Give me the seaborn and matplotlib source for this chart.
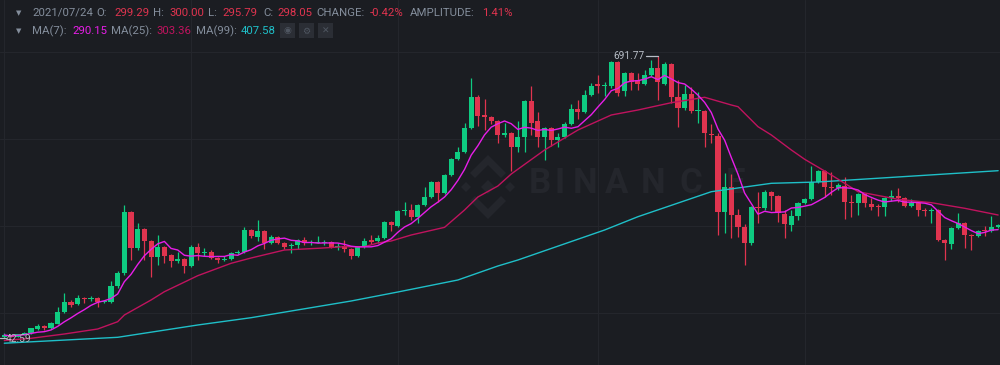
import numpy as np
import pandas as pd
import matplotlib.pyplot as plt
from matplotlib.patches import Rectangle, Polygon
import seaborn as sns

# OHLC (daily candles)
opens = [44.2, 48.5, 45.0, 50.5, 54.5, 64.0, 70.0, 64.5, 75.5, 102.0,
         125.3, 121.0, 134.5, 132.0, 134.5, 125.3, 125.3, 162.0, 192.0, 332.3,
         249.5, 293.2, 265.6, 228.8, 251.8, 233.4, 219.6, 224.2, 208.1, 251.8,
         238.0, 240.0, 226.5, 222.0, 224.2, 238.0, 240.0, 290.9, 274.8, 288.6,
         261.0, 274.8, 261.0, 254.0, 256.4, 267.9, 261.0, 262.0, 262.0, 263.0,
         252.0, 254.0, 247.0, 231.0, 251.8, 267.9, 265.6, 272.5, 309.3, 300.0,
         334.6, 336.9, 320.8, 348.4, 366.8, 401.3, 376.0, 417.4, 454.1, 470.3,
         525.5, 596.8, 555.0, 551.0, 541.6, 509.4, 514.0, 481.8, 504.8, 587.6,
         542.0, 504.8, 525.5, 497.9, 504.8, 534.7, 569.2, 562.3, 601.4, 626.7,
         622.1, 622.0, 677.3, 610.6, 652.0, 636.0, 626.7, 647.4, 663.5, 626.7,
         672.7, 596.8, 571.5, 603.7, 564.6, 564.6, 511.7, 507.0, 332.3, 389.8,
         325.4, 297.8, 260.9, 343.8, 341.5, 378.3, 369.1, 327.7, 302.4, 323.1,
         353.0, 362.2, 401.3, 426.6, 389.8, 387.5, 392.0, 355.3, 353.0, 373.7,
         350.7, 346.0, 343.8, 364.5, 369.1, 364.5, 346.0, 352.0, 337.0, 335.0,
         336.9, 267.9, 258.6, 295.5, 307.0, 280.0, 277.0, 291.0, 289.0, 297.8]
highs = [52.9, 50.5, 52.0, 56.5, 66.0, 74.0, 71.5, 79.0, 113.8, 146.0,
         130.0, 141.0, 137.0, 139.0, 137.0, 130.0, 173.6, 196.6, 348.4, 335.0,
         307.0, 296.0, 268.0, 279.4, 254.0, 235.0, 239.7, 226.0, 256.4, 261.0,
         250.0, 246.0, 228.0, 230.0, 241.0, 246.0, 298.0, 293.0, 313.9, 291.0,
         280.0, 277.0, 263.0, 260.0, 270.0, 274.0, 267.0, 277.0, 268.0, 265.0,
         260.0, 267.0, 250.0, 254.0, 272.0, 279.0, 279.4, 312.0, 311.0, 337.0,
         355.0, 350.0, 350.0, 390.0, 403.0, 404.0, 420.0, 457.0, 482.0, 536.0,
         640.5, 601.0, 593.0, 553.0, 544.0, 537.0, 517.0, 541.0, 590.0, 621.0,
         563.0, 528.0, 528.0, 513.0, 540.0, 580.0, 589.0, 612.0, 630.0, 647.0,
         632.0, 680.0, 680.0, 655.0, 655.0, 652.0, 659.0, 681.9, 691.77, 677.0,
         675.0, 636.0, 624.0, 620.0, 608.0, 567.0, 535.0, 515.0, 422.0, 420.0,
         340.0, 305.0, 346.0, 378.0, 382.0, 381.0, 372.0, 336.0, 337.0, 356.0,
         365.0, 439.0, 430.0, 429.0, 425.0, 400.0, 413.0, 372.0, 377.0, 377.0,
         365.0, 350.0, 367.0, 383.0, 387.0, 367.0, 362.0, 355.0, 341.0, 342.0,
         340.0, 270.0, 297.0, 331.0, 310.0, 282.0, 290.0, 300.0, 322.0, 305.0]
lows = [42.59, 44.0, 44.0, 49.5, 52.0, 61.0, 60.5, 63.0, 74.0, 100.0,
        113.0, 119.0, 123.0, 128.0, 114.0, 124.0, 122.0, 158.0, 188.0, 221.9,
        246.0, 221.9, 182.8, 210.4, 214.0, 205.8, 214.0, 191.9, 205.0, 222.0,
        231.0, 224.0, 215.0, 220.0, 222.0, 236.0, 238.0, 272.0, 265.0, 247.0,
        259.0, 258.0, 247.0, 238.0, 247.0, 256.0, 256.0, 260.0, 257.0, 249.0,
        246.0, 240.0, 224.0, 229.0, 249.0, 258.0, 261.0, 271.0, 288.0, 298.0,
        325.0, 315.0, 307.0, 346.0, 364.0, 355.0, 374.0, 415.0, 452.0, 468.0,
        523.0, 530.0, 521.0, 534.0, 491.0, 505.0, 426.6, 470.3, 470.0, 510.0,
        482.0, 452.0, 483.0, 482.0, 502.0, 532.0, 546.0, 560.0, 599.0, 606.0,
        598.0, 618.0, 600.0, 600.0, 613.0, 613.0, 624.0, 645.0, 589.9, 624.0,
        583.0, 528.0, 568.0, 560.0, 537.0, 481.8, 491.0, 279.4, 284.0, 272.5,
        275.0, 210.4, 256.0, 307.0, 338.0, 337.0, 309.0, 272.0, 289.0, 314.0,
        350.0, 359.0, 398.0, 367.0, 371.0, 382.0, 316.0, 321.0, 325.0, 343.0,
        337.0, 323.0, 323.0, 358.0, 355.0, 343.0, 344.0, 323.0, 322.0, 307.0,
        265.0, 221.9, 248.0, 293.0, 250.6, 245.0, 275.0, 277.0, 287.0, 295.0]
closes = [49.4, 45.0, 51.0, 55.0, 64.5, 70.0, 64.5, 77.0, 102.3, 125.3,
          118.5, 134.5, 132.0, 134.0, 125.0, 127.5, 162.0, 192.0, 332.3, 249.5,
          293.2, 265.6, 228.8, 251.8, 231.1, 219.6, 224.2, 208.1, 251.8, 238.0,
          240.0, 226.5, 221.9, 224.5, 238.0, 240.0, 290.9, 277.0, 288.6, 261.0,
          274.8, 261.0, 251.8, 256.4, 267.9, 261.0, 263.0, 264.0, 264.0, 251.8,
          254.5, 247.0, 231.0, 251.8, 265.6, 263.3, 272.5, 309.3, 302.4, 334.6,
          336.5, 320.8, 348.4, 366.8, 401.3, 376.0, 417.4, 454.1, 470.3, 525.5,
          596.8, 553.0, 551.0, 541.6, 509.4, 514.0, 481.8, 504.8, 587.6, 537.0,
          504.8, 525.5, 497.9, 504.8, 534.7, 569.2, 562.3, 601.4, 622.1, 622.1,
          625.0, 677.3, 606.0, 652.0, 631.0, 626.7, 647.4, 663.5, 631.3, 672.7,
          596.8, 571.5, 603.7, 564.6, 567.0, 514.0, 509.4, 332.3, 389.8, 325.4,
          297.8, 260.9, 343.8, 341.5, 378.3, 369.1, 330.0, 304.7, 323.1, 353.0,
          362.2, 401.3, 426.6, 389.8, 387.5, 394.4, 355.3, 353.0, 373.7, 353.0,
          343.8, 344.0, 364.5, 369.1, 364.5, 346.0, 352.0, 336.9, 335.0, 337.0,
          267.9, 260.9, 295.5, 307.0, 279.4, 278.0, 288.6, 289.0, 297.8, 302.4]

# MA(25) and MA(99) sampled along the drawn lines (their history starts before the window)
ma25_idx = [0, 4, 9, 14, 17, 18, 22, 24, 29, 34, 37, 42, 47, 51, 54, 56, 58, 61, 66, 69,
            71, 74, 76, 81, 86, 91, 95, 100, 105, 109, 110, 113, 115, 118, 120, 124,
            128, 134, 139, 144, 149]
ma25_val = [36.8, 41.8, 51.7, 63.2, 80.0, 95.4, 129.9, 149.0, 185.8, 214.3, 226.5, 244.9,
            248.8, 252.5, 252.5, 261.0, 265.6, 279.4, 297.0, 336.9, 366.8, 392.1, 419.7,
            474.9, 520.9, 555.4, 566.9, 583.7, 596.1, 578.4, 574.5, 528.5, 509.4, 474.9,
            453.5, 417.4, 379.0, 361.5, 353.7, 340.8, 325.4]
ma99_idx = [0, 17, 29, 37, 52, 59, 68, 74, 77, 90, 95, 106, 115, 122, 149]
ma99_val = [30.5, 44.1, 72.4, 89.2, 127.6, 148.3, 175.9, 208.1, 221.9, 290.9, 321.5,
            379.0, 398.3, 401.3, 427.3]

month_starts = [0, 28, 59, 89, 120]
price_grid = [100, 300, 500, 700]

BG = "#1b1d22"
GRID = "#24262c"
WM = "#24262c"
GREEN = "#0ecb81"
RED = "#e0344f"
MA7_C = "#e81ee8"
MA25_C = "#c0135e"
MA99_C = "#1fbfc8"
LABEL = "#848e9c"

sns.set_theme(style="dark", rc={"axes.facecolor": BG, "figure.facecolor": BG})
plt.rcParams["font.family"] = ["Roboto", "DejaVu Sans"]

df = pd.DataFrame({"open": opens, "high": highs, "low": lows, "close": closes})
df["idx"] = np.arange(len(df))
df["ma7"] = df["close"].rolling(7, min_periods=1).mean()
ma25 = pd.DataFrame({"idx": ma25_idx, "ma": ma25_val})
ma99 = pd.DataFrame({"idx": ma99_idx, "ma": ma99_val})

fig = plt.figure(figsize=(10, 3.65), dpi=100)
ax = fig.add_axes([0, 0, 1, 1])
ax.set_xlim(-0.645, 149.28)
ax.set_ylim(-19.6, 819.9)


def fig_xy(x, y):
    # pixel position (from top-left) -> figure fraction
    return (x / 1000, 1 - y / 365)


for g in price_grid:
    ax.axhline(g, color=GRID, linewidth=0.8, zorder=1)
for m in month_starts:
    ax.axvline(m, color=GRID, linewidth=0.8, zorder=1)

# watermark (inside the axes, under the candles)
logo = [
    [(488, 180), (495, 187), (488, 194), (481, 187)],
    [(466, 182), (471, 187), (466, 192), (461, 187)],
    [(510, 182), (515, 187), (510, 192), (505, 187)],
    [(488, 155), (506, 173), (501, 178), (488, 165), (475, 178), (470, 173)],
    [(488, 219), (506, 201), (501, 196), (488, 209), (475, 196), (470, 201)],
]
for shape in logo:
    ax.add_patch(Polygon([fig_xy(*p) for p in shape], closed=True, transform=fig.transFigure,
                         facecolor=WM, edgecolor="none", zorder=1))
for ch, x in zip("BINANCE", [540, 560, 585, 617, 653, 691, 736]):
    ax.text(*fig_xy(x, 183), ch, transform=fig.transFigure, color=WM, fontsize=25,
            fontweight="bold", ha="center", va="center", zorder=1)

# candles
up = df["close"] >= df["open"]
colors = np.where(up, GREEN, RED)
bottom = df[["open", "close"]].min(axis=1)
height = (df["close"] - df["open"]).abs().clip(lower=2.0)
ax.vlines(df["idx"], df["low"], df["high"], colors=colors, linewidth=0.9, zorder=3)
ax.bar(df["idx"], height, bottom=bottom, width=0.76, color=colors, linewidth=0, zorder=3)

# moving averages
sns.lineplot(data=ma99, x="idx", y="ma", ax=ax, color=MA99_C, linewidth=1.0, zorder=4)
sns.lineplot(data=ma25, x="idx", y="ma", ax=ax, color=MA25_C, linewidth=1.0, zorder=4)
sns.lineplot(data=df, x="idx", y="ma7", ax=ax, color=MA7_C, linewidth=1.0, zorder=5)
ax.set_axis_off()

# high / low markers
hi = df["high"].idxmax()
lo = df["low"].idxmin()
ax.plot([hi - 1.75, hi], [df["high"][hi], df["high"][hi]], color="#b7bdc6", linewidth=0.9, zorder=6)
ax.text(hi - 2.0, df["high"][hi], f"{df['high'][hi]:.2f}", color="#b7bdc6", fontsize=7.3,
        ha="right", va="center", zorder=6)
ax.plot([lo - 0.65, lo + 0.2], [df["low"][lo], df["low"][lo]], color="#b7bdc6", linewidth=0.9, zorder=6)
ax.text(lo + 0.25, df["low"][lo] - 3, f"{df['low'][lo]:.2f}", color="#b7bdc6", fontsize=7.3,
        ha="left", va="center", zorder=6)

# header legend
line1 = [("2021/07/24", 32, LABEL), ("O:", 96, LABEL), ("299.29", 114, RED),
         ("H:", 153, LABEL), ("300.00", 169, RED), ("L:", 208, LABEL), ("295.79", 222, RED),
         ("C:", 263, LABEL), ("298.05", 277, RED), ("CHANGE:", 316, LABEL),
         ("-0.42%", 370, RED), ("AMPLITUDE:", 410, LABEL), ("1.41%", 482, RED)]
line2 = [("MA(7):", 32, LABEL), ("290.15", 72, MA7_C), ("MA(25):", 111, LABEL),
         ("303.36", 156, MA25_C), ("MA(99):", 196, LABEL), ("407.58", 241, MA99_C)]
for items, y in [(line1, 13), (line2, 31.5)]:
    fig.text(*fig_xy(15.5, y), "▼", color=LABEL, fontsize=5, va="center", ha="left",
             family="DejaVu Sans")
    for s, x, c in items:
        fig.text(*fig_xy(x, y), s, color=c, fontsize=8.2, va="center", ha="left")

for x0, glyph in [(280, "◉"), (299, "⚙"), (318, "✕")]:
    fig.patches.append(Rectangle(fig_xy(x0, 38), 15 / 1000, 15 / 365, transform=fig.transFigure,
                                 facecolor="#2b2e35", edgecolor="none", zorder=2))
    fig.text(*fig_xy(x0 + 7.5, 31), glyph, color="#4f5661", fontsize=6.5, ha="center",
             va="center", family="DejaVu Sans", zorder=3)

fig.savefig("out.png", dpi=100, facecolor=BG)
